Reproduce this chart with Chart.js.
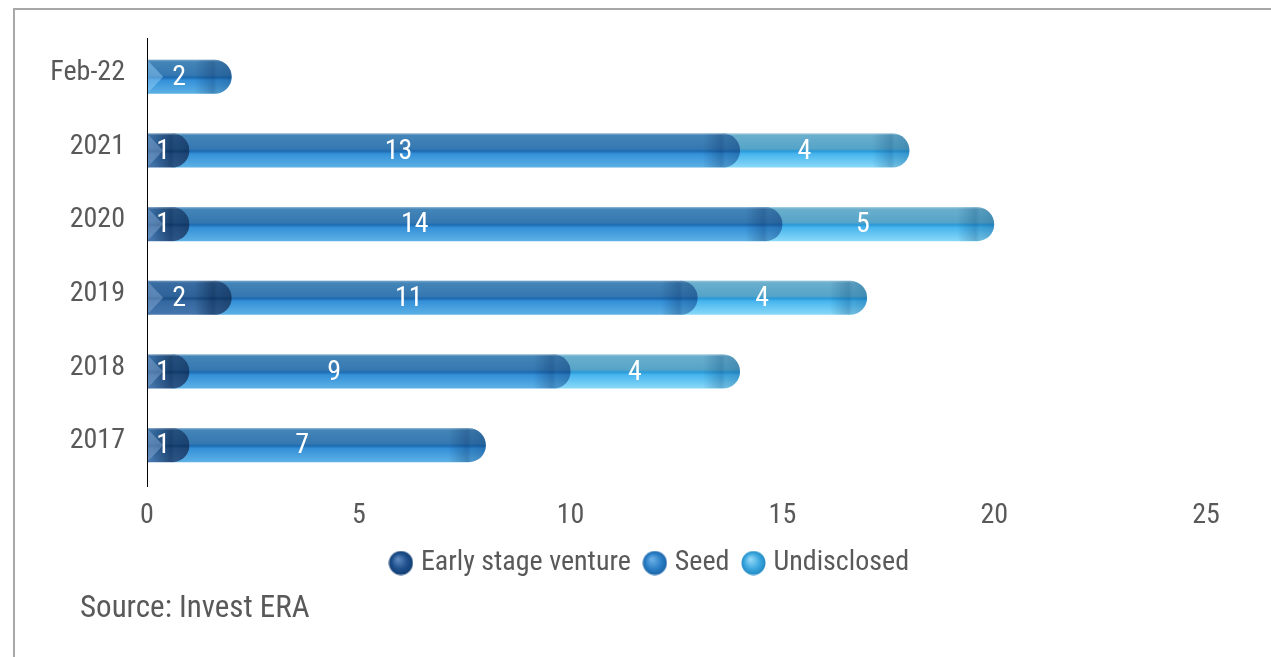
<!DOCTYPE html>
<html>
<head>
<meta charset="utf-8">
<script src="https://cdn.jsdelivr.net/npm/chart.js@4.4.1/dist/chart.umd.min.js"></script>
<style>
  html, body { margin: 0; padding: 0; background: #ffffff; overflow: hidden; }
  #wrap { width: 1271px; height: 657px; position: relative; }
</style>
</head>
<body>
<div id="wrap"><canvas id="deals" width="1271" height="657"></canvas></div>
<script>
// Deal counts by funding stage, per period
const periods = ['Feb-22', '2021', '2020', '2019', '2018', '2017'];
const earlyStage = [null, 1, 1, 2, 1, 1];
const seed = [2, 13, 14, 11, 9, 7];
const undisclosed = [null, 4, 5, 4, 4, null];
const xTicks = [0, 5, 10, 15, 20, 25];
const seriesNames = ['Early stage venture', 'Seed', 'Undisclosed'];
const sourceNote = 'Source: Invest ERA';

const FONT = '"Roboto Condensed", "Liberation Sans Narrow", "DejaVu Sans Condensed", sans-serif';
const GREY = '#595959';

// Glossy pipe look for each stage: vertical gradient stops, chevron tint, cap shade
const pipeStyles = [
  { stops: [[0, '#3a6ea3'], [0.45, '#2e6298'], [0.52, '#1c4f85'], [0.6, '#33679f'], [1, '#4677ae']],
    chevron: 'rgba(140,175,215,0.45)', cap: [0, 25, 60], capAlpha: [0.45, 0.35, 0.45], sphere: ['#5a86bd', '#1d4f8c', '#123c70'] },
  { stops: [[0, '#4687b9'], [0.45, '#3578b1'], [0.52, '#1c6bb2'], [0.6, '#3490d8'], [1, '#5db1e5']],
    chevron: 'rgba(150,210,250,0.45)', cap: [5, 40, 90], capAlpha: [0.30, 0.18, 0.28], sphere: ['#6aaee6', '#2b7fc6', '#1b62a6'] },
  { stops: [[0, '#6db0ce'], [0.45, '#55a4c8'], [0.52, '#2999d8'], [0.6, '#47b5ee'], [1, '#8ad9f8']],
    chevron: 'rgba(190,235,252,0.45)', cap: [10, 70, 120], capAlpha: [0.30, 0.18, 0.28], sphere: ['#8fd6f6', '#3aa6de', '#2288c2'] }
];

// Small shaded spheres used as legend markers
function makeSphere(colors) {
  const s = 25, c = document.createElement('canvas');
  c.width = s; c.height = s;
  const g = c.getContext('2d');
  const grad = g.createRadialGradient(s * 0.38, s * 0.35, 1, s / 2, s / 2, s / 2);
  grad.addColorStop(0, colors[0]);
  grad.addColorStop(0.6, colors[1]);
  grad.addColorStop(1, colors[2]);
  g.fillStyle = grad;
  g.beginPath(); g.arc(s / 2, s / 2, s / 2 - 0.5, 0, Math.PI * 2); g.fill();
  return c;
}
const markers = pipeStyles.map(p => makeSphere(p.sphere));

// Frame, axis line and source note
const decor = {
  id: 'decor',
  beforeDraw(chart) {
    const ctx = chart.ctx;
    ctx.save();
    ctx.strokeStyle = '#a8a8a8';
    ctx.lineWidth = 2;
    ctx.beginPath();
    ctx.moveTo(14, chart.height);
    ctx.lineTo(14, 9);
    ctx.lineTo(chart.width, 9);
    ctx.stroke();
    ctx.restore();
  },
  afterDraw(chart) {
    const ctx = chart.ctx, a = chart.chartArea;
    ctx.save();
    ctx.strokeStyle = '#000000';
    ctx.lineWidth = 1;
    ctx.beginPath();
    ctx.moveTo(Math.round(a.left) + 0.5, a.top - 2);
    ctx.lineTo(Math.round(a.left) + 0.5, a.bottom + 5);
    ctx.stroke();
    ctx.fillStyle = GREY;
    ctx.font = '31px ' + FONT;
    ctx.textAlign = 'left';
    ctx.textBaseline = 'middle';
    ctx.fillText(sourceNote, 80, 609);
    ctx.restore();
  }
};

// Draws every stacked bar element as a rounded glossy pipe segment
const pipes = {
  id: 'pipes',
  afterDatasetsDraw(chart) {
    const ctx = chart.ctx;
    const sets = chart.data.datasets;
    const labelsToDraw = [];
    for (let j = 0; j < chart.data.labels.length; j++) {
      let first = -1;
      for (let i = 0; i < sets.length; i++) { if (sets[i].data[j]) { first = i; break; } }
      for (let i = sets.length - 1; i >= 0; i--) {
        const v = sets[i].data[j];
        if (!v) continue;
        const bar = chart.getDatasetMeta(i).data[j];
        const { x, y, base, height } = bar.getProps(['x', 'y', 'base', 'height'], true);
        const r = height / 2, top = y - r, bottom = y + r;
        const left = i === first ? base : base - r;
        const st = pipeStyles[i];

        ctx.save();
        ctx.beginPath();
        ctx.moveTo(left, top);
        ctx.lineTo(x - r, top);
        ctx.arc(x - r, y, r, -Math.PI / 2, Math.PI / 2);
        ctx.lineTo(left, bottom);
        ctx.closePath();
        const vg = ctx.createLinearGradient(0, top, 0, bottom);
        st.stops.forEach(s => vg.addColorStop(s[0], s[1]));
        ctx.fillStyle = vg;
        ctx.fill();
        ctx.clip();

        // darker shading toward the rounded end
        const c = st.cap, ca = st.capAlpha;
        const hg = ctx.createLinearGradient(x - 2.2 * r, 0, x, 0);
        hg.addColorStop(0, `rgba(${c[0]},${c[1]},${c[2]},0)`);
        hg.addColorStop(0.5, `rgba(${c[0]},${c[1]},${c[2]},${ca[0]})`);
        hg.addColorStop(0.62, `rgba(${c[0]},${c[1]},${c[2]},${ca[1]})`);
        hg.addColorStop(1, `rgba(${c[0]},${c[1]},${c[2]},${ca[2]})`);
        ctx.fillStyle = hg;
        ctx.fillRect(x - 2.2 * r, top, 2.2 * r, height);

        // chevron at the start of each pipe
        if (i === first) {
          ctx.fillStyle = st.chevron;
          ctx.beginPath();
          ctx.moveTo(base, top);
          ctx.lineTo(base + r * 0.95, y);
          ctx.lineTo(base, bottom);
          ctx.closePath();
          ctx.fill();
        }
        // faint top sheen
        ctx.fillStyle = 'rgba(255,255,255,0.18)';
        ctx.fillRect(left, top, x - left, 1.5);
        ctx.restore();

        labelsToDraw.push({ text: String(v), x: base + (x - base) * 0.38, y: y });
      }
    }
    ctx.save();
    ctx.fillStyle = '#ffffff';
    ctx.font = '28px ' + FONT;
    ctx.textAlign = 'center';
    ctx.textBaseline = 'middle';
    labelsToDraw.forEach(l => ctx.fillText(l.text, l.x, l.y + 1));
    ctx.restore();
  }
};

const seriesData = [earlyStage, seed, undisclosed];

new Chart(document.getElementById('deals'), {
  type: 'bar',
  data: {
    labels: periods,
    datasets: seriesData.map((d, i) => ({
      label: seriesNames[i],
      data: d,
      backgroundColor: 'rgba(0,0,0,0)',
      borderWidth: 0,
      barThickness: 34
    }))
  },
  options: {
    indexAxis: 'y',
    responsive: false,
    animation: false,
    devicePixelRatio: 1,
    layout: { padding: { left: 33, right: 0, top: 40, bottom: 70 } },
    scales: {
      x: {
        stacked: true,
        min: 0,
        max: 25,
        grid: { display: false, drawTicks: false },
        border: { display: false },
        afterBuildTicks(scale) { scale.ticks = xTicks.map(v => ({ value: v })); },
        afterFit(scale) { scale.height = 49; },
        ticks: { color: GREY, padding: 17, font: { family: FONT, size: 28 } }
      },
      y: {
        stacked: true,
        grid: { display: false, drawTicks: false },
        border: { display: false },
        afterFit(scale) { scale.width = 114; },
        ticks: { color: GREY, padding: 22, labelOffset: -4, font: { family: FONT, size: 28 } }
      },
      // empty right-hand gutter that keeps the plot clear of the frame edge
      gutter: {
        type: 'linear',
        position: 'right',
        display: true,
        grid: { display: false, drawTicks: false },
        border: { display: false },
        ticks: { display: false },
        afterFit(scale) { scale.width = 65; }
      }
    },
    plugins: {
      tooltip: { enabled: false },
      legend: {
        position: 'bottom',
        labels: {
          color: GREY,
          font: { family: FONT, size: 28 },
          usePointStyle: true,
          boxWidth: 12,
          boxHeight: 12,
          padding: 18,
          generateLabels(chart) {
            return chart.data.datasets.map((ds, i) => ({
              text: ds.label,
              pointStyle: markers[i],
              fillStyle: pipeStyles[i].sphere[1],
              strokeStyle: 'rgba(0,0,0,0)',
              lineWidth: 0,
              hidden: false,
              datasetIndex: i,
              fontColor: GREY
            }));
          }
        }
      }
    }
  },
  plugins: [decor, pipes]
});
</script>
</body>
</html>
